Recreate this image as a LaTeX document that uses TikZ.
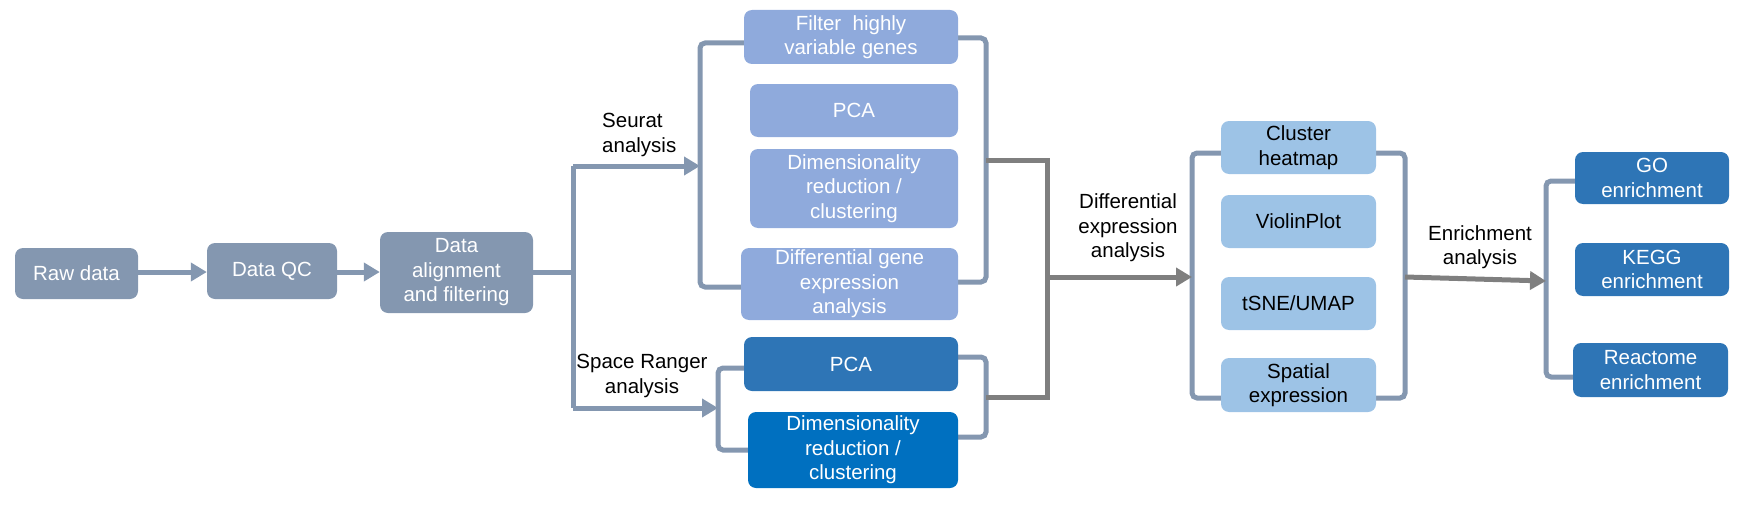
\documentclass[tikz,border=0pt]{standalone}
\usepackage{fontspec}
\setmainfont{Liberation Sans}
\usetikzlibrary{arrows.meta}
\definecolor{slate}{HTML}{8497B0}
\definecolor{seur}{HTML}{8FAADC}
\definecolor{dblue}{HTML}{2E75B6}
\definecolor{bblue}{HTML}{0070C0}
\definecolor{lblue}{HTML}{9DC3E6}
\definecolor{dgray}{HTML}{7F7F7F}
\begin{document}
\begin{tikzpicture}[x=1pt,y=-1pt,
  box/.style={rounded corners=8pt, inner sep=0pt, align=center, text=white,
    font=\fontsize{20.5}{24.5}\selectfont},
  lbl/.style={inner sep=0pt, align=center, text=black, font=\fontsize{20.5}{24.5}\selectfont},
  bracket/.style={draw=slate, line width=5pt, rounded corners=5pt},
  sline/.style={draw=slate, line width=5pt},
  sarr/.style={draw=slate, line width=5pt, -{Triangle[length=16pt,width=18pt]}},
  gline/.style={draw=dgray, line width=5pt},
  garr/.style={draw=dgray, line width=5pt, -{Triangle[length=16pt,width=18pt]}}]
\useasboundingbox (0,0) rectangle (1747,519);

% connectors (drawn first, boxes on top)
\coordinate (j) at (573,272);
\coordinate (sl) at (700,166);
\coordinate (rl) at (718,408);
\coordinate (g1) at (1047,160);
\coordinate (g2) at (1047,397);
\coordinate (gm) at (1047,277);
\coordinate (cl) at (1192,277);
\coordinate (cr) at (1405,277);
\coordinate (el) at (1546,281);

% brackets
\draw[bracket] (760,43) -- (700,43) -- (700,287) -- (760,287);
\draw[bracket] (940,38) -- (986,38) -- (986,282) -- (940,282);
\draw[bracket] (760,368) -- (718,368) -- (718,450) -- (760,450);
\draw[bracket] (940,357) -- (986,357) -- (986,437) -- (940,437);
\draw[bracket] (1235,153) -- (1192,153) -- (1192,398) -- (1235,398);
\draw[bracket] (1360,153) -- (1405,153) -- (1405,398) -- (1360,398);
\draw[bracket] (1590,181) -- (1546,181) -- (1546,377) -- (1590,377);

% nodes
\node[box, fill=slate, minimum width=123pt, minimum height=51pt] (raw) at (76.5,273.5) {Raw data};
\node[box, fill=slate, minimum width=130pt, minimum height=56pt] (qc) at (272,271) {Data QC};
\node[box, fill=slate, minimum width=153pt, minimum height=81pt] (align) at (456.5,272.5) {Data\\alignment\\and filtering};

\node[box, fill=seur, minimum width=214pt, minimum height=54pt] (filter) at (851,37) {Filter\ \ highly\\variable genes};
\node[box, fill=seur, minimum width=208pt, minimum height=53pt] (spca) at (854,110.5) {PCA};
\node[box, fill=seur, minimum width=208pt, minimum height=79pt] (sdim) at (854,188.5) {Dimensionality\\reduction /\\clustering};
\node[box, fill=seur, minimum width=217pt, minimum height=72pt] (sdiff) at (849.5,284) {Differential gene\\expression\\analysis};

\node[box, fill=dblue, minimum width=214pt, minimum height=54pt] (rpca) at (851,364) {PCA};
\node[box, fill=bblue, minimum width=210pt, minimum height=76pt] (rdim) at (853,450) {Dimensionality\\reduction /\\clustering};

\node[box, fill=lblue, text=black, minimum width=155pt, minimum height=53pt] (cluster) at (1298.5,147.5) {Cluster\\heatmap};
\node[box, fill=lblue, text=black, minimum width=155pt, minimum height=53pt] (violin) at (1298.5,221.5) {ViolinPlot};
\node[box, fill=lblue, text=black, minimum width=155pt, minimum height=53pt] (tsne) at (1298.5,303.5) {tSNE/UMAP};
\node[box, fill=lblue, text=black, minimum width=155pt, minimum height=54pt] (spatial) at (1298.5,385) {Spatial\\expression};

\node[box, fill=dblue, minimum width=154pt, minimum height=52pt] (go) at (1652,178) {GO\\enrichment};
\node[box, fill=dblue, minimum width=154pt, minimum height=53pt] (kegg) at (1652,269.5) {KEGG\\enrichment};
\node[box, fill=dblue, minimum width=155pt, minimum height=54pt] (reac) at (1650.5,370) {Reactome\\enrichment};

% labels
\node[lbl, align=left, anchor=west] (seuratlbl) at (602,135) {Seurat\\analysis};
\node[lbl] (srlbl) at (642,376) {Space Ranger\\analysis};
\node[lbl] (delbl) at (1128,228) {Differential\\expression\\analysis};
\node[lbl] (enlbl) at (1480,247) {Enrichment\\analysis};

% arrows
\draw[sarr] (raw.east |- j) -- (qc.west |- j);
\draw[sarr] (qc.east |- j) -- (align.west |- j);
\draw[sline] (align.east |- j) -- (j);
\draw[sline] (573,166) -- (573,408);
\draw[sarr] (573,166) -- (sl);
\draw[sarr] (573,408) -- (rl);

\draw[gline, line join=miter] (986,160) -- (g1) -- (g2) -- (986,397);
\draw[garr] (gm) -- (cl);
\draw[garr] (cr) -- (el);
\end{tikzpicture}
\end{document}
